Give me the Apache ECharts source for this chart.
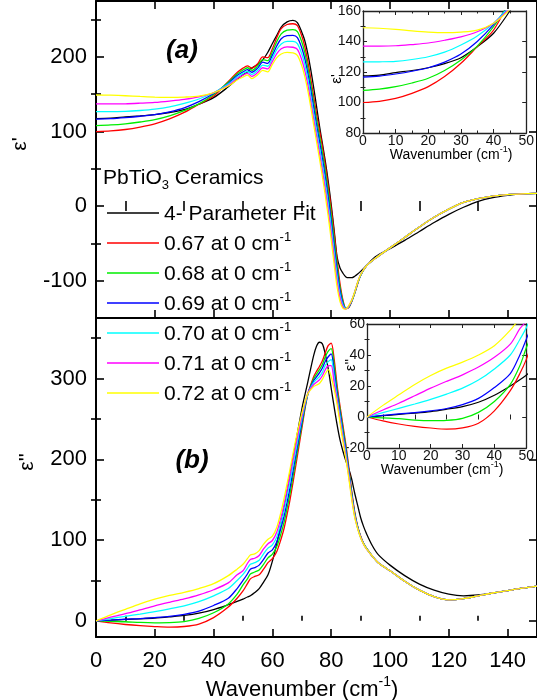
<!DOCTYPE html>
<html>
<head>
<meta charset="utf-8">
<script src="https://cdn.jsdelivr.net/npm/echarts@6/dist/echarts.min.js"></script>
<style>
html, body { margin: 0; padding: 0; background: #fff; }
#chart { width: 537px; height: 700px; }
</style>
</head>
<body>
<div id="chart"></div>
<script>
// Wavenumber grids (cm^-1)
const wavenumberReal = [0,5,10,15,20,25,30,35,40,45,48,50,51.5,53,55,56.7,58.4,60,61.5,63,65,67,68.5,70,71,72,73,74,75,76,77,78,79,80,81,82,83,84,85,86,87,88,89,90,92,95,100,105,110,115,120,125,130,135,140,145,150];
const wavenumberImag = [0,5,10,15,20,25,30,35,40,45,48,50,51.5,52.5,54,55.5,57,58.5,60,61.5,63,64,65,66,68,70,72,74,75,76,77,78,79,80,81,82,83,84,85,86,87,88,89,90,91,92,94,96,100,105,110,115,120,125,130,135,140,145,150];

// Real part of the permittivity
const epsRealFit = [117.4,118,119.6,121,122.8,125.5,129.4,136.6,145.4, 160,170,176,180,185,190,196,206,218,229,240,247,249,246, 233,222,205,184,160,134,108,84,60,33,2,-32,-68,-83,-90,-95,-96,-96,-94,-91,-87.5, -80,-68,-57,-46,-34,-22,-11,-1.5,6.5,11.5,14.5,16.5,17];
const epsReal067 = [100,100.8,102.7,106,110.4,117,125.7,136.6,147.5, 167,179,185,188,185,191,200,199,211,226,238,243.5,244.5,242, 228,214,195,172,148,124,102,80,55,27,-3,-36,-72,-104,-126,-137,-136,-128,-117,-104,-93, -80,-70,-56,-42,-28,-15,-4,5,10,13.5,15.5,16.5,17];
const epsReal068 = [108,108.8,110.4,112.8,115.9,121,127.9,137,149.7, 166,177,182.5,185.5,182,188,196.5,195,207,220.5,231,236,236.7,234, 220,206,187,164.5,140.5,116.5,94.5,72,47,19,-11.5,-44.5,-79,-109,-128,-137,-135.5,-127.5,-116.5,-103.5,-93, -80,-70,-56,-42,-28,-15,-4,5,10,13.5,15.5,16.5,17];
const epsReal069 = [116.7,117.3,118.7,120.5,122.8,126.5,131.8,140,151, 164.5,175,180,183,179.5,185,193,191.5,202.5,215,224.5,228.5,229,226, 212,198,179,157,133,109,87,64,38.5,11,-20,-53,-86.5,-113.5,-130.5,-137.5,-135,-127,-116,-103,-92.5, -80,-70,-56,-42,-28,-15,-4,5,10,13.5,15.5,16.5,17];
const epsReal070 = [126.6,126.7,127,128.2,130,133,137.7,143.6,152, 163.5,173,178,180.5,176.5,182,189,187.5,198.5,210,217.5,221,221,218, 204,190,171.5,149,125,102,79,56,30.5,2.5,-28,-61,-93.5,-118.5,-132.5,-137.5,-134.5,-126.5,-115.5,-102.5,-92.5, -80,-70,-56,-42,-28,-15,-4,5,10,13.5,15.5,16.5,17];
const epsReal071 = [137,137,137.2,138,139,140.8,143,146.4,152, 162,171,175.5,178,174,179,185.5,184,194,204.5,211,213.5,213,210, 196,182,163.5,141.5,117.5,94.5,71.5,48,22,-6,-36.5,-69.5,-101,-123,-135,-138,-134,-126,-115,-102,-92, -80,-70,-56,-42,-28,-15,-4,5,10,13.5,15.5,16.5,17];
const epsReal072 = [149,148.7,148,147,146.2,145.8,146.2,147.5,152, 161,169,173,175.5,171,176,182,180,190,199,204,206,205.5,202, 188,174,156,134,110,87,64,40,14,-14,-45,-78,-108,-128,-137,-138,-133,-126,-115,-102,-92, -80,-70,-56,-42,-28,-15,-4,5,10,13.5,15.5,16.5,17];

// Imaginary part of the permittivity
const epsImagFit = [0,0.8,1.7,2.5,3.5,5,6.7,9.5,14, 20,24,27,29.5,31,35,40,48,57,74,96,122,140,160,181,222,262,295, 328,340,345,343,330,312,288,265,243,224,210,198,188,175,158,143,128,117,108, 93,82,69,56,45.5,38,33,31,32,34.5,37.5,40.5,43];
const epsImag067 = [0,-2.5,-4.5,-6,-7.1,-7.8,-7,-4,4, 17,28,37,46,52,55,57,64,72,77,86,102,115,132,150,193,238,280, 302,309,315,322,332,341,344,324,292,266,242,218,190,160,135,117,105,96,90, 80,72,62,49,38,30,26,27.5,31,34.5,37.5,40.5,43];
const epsImag068 = [0,-0.6,-1.1,-2,-2.4,-2.2,-0.9,3,10, 21,33,44.5,52,58,60.5,63,70,78,82.5,92,109,122.5,139.5,157.5,199.5,242,280, 299.5,305.5,311,317.5,327,334,337,317,287,262,238,214.5,187,158,133.5,116.5,104.5,96,90, 80,72,62,49,38,30,26,27.5,31,34.5,37.5,40.5,43];
const epsImag069 = [0,1,2,2.8,4,5.5,8,12,19, 28,40,50,58,64,66,69,76,84,88,98,116,130,147,165,206,245.5,280.5, 297,302,307,313,321.5,327,330.5,309.5,282,258,234,211,184.5,156,132,116,104,95.5,89.5, 80,72,62,49,38,30,26,27.5,31,34.5,37.5,40.5,43];
const epsImag070 = [0,2.8,5.6,8.4,11.4,14.8,18.6,23.8,31, 40,50,57.5,65,70,72,75,83,90,94,104,122.5,137,155,173,212,249.5,280.5, 295,299,302.5,308,316.5,321,323.5,302,277,253.5,230,207,181.5,154,131,115,103.5,95.5,89.5, 80,72,62,49,38,30,26,27.5,31,34.5,37.5,40.5,43];
const epsImag071 = [0,4.5,8.9,13.7,18.6,23,27.2,32.2,38.5, 47,57,62,71,76,77.5,81,89,95.5,99.5,110,129,144.5,162.5,180.5,218.5,253,281, 292.5,295.5,298.5,303.5,311,316,316,294.5,273,249,226,203.5,179,152,129.5,114.5,103.5,95,89, 80,72,62,49,38,30,26,27.5,31,34.5,37.5,40.5,43];
const epsImag072 = [0,7.5,14.3,21,26.8,31.5,35.4,40,46, 56,64,70,77,81.5,83,87,95,101,105,116,136,152,170,188,225,257,281, 290,292,294,299,306,311,302,287,268,245,222,200,176,150,128,114,103,95,89, 80,72,62,49,38,30,26,27.5,31,34.5,37.5,40.5,43];

// Curve names and colours (draw order: fit first, coloured curves on top)
const curveNames = ['4- Parameter Fit', '0.67 at 0 cm-1', '0.68 at 0 cm-1', '0.69 at 0 cm-1', '0.70 at 0 cm-1', '0.71 at 0 cm-1', '0.72 at 0 cm-1'];
const curveColors = ['#000000', '#ff0000', '#00ee00', '#0000ff', '#00ffff', '#ff00ff', '#ffff00'];
const realSets = [epsRealFit, epsReal067, epsReal068, epsReal069, epsReal070, epsReal071, epsReal072];
const imagSets = [epsImagFit, epsImag067, epsImag068, epsImag069, epsImag070, epsImag071, epsImag072];

// Tick positions
const mainXMajor = [0,20,40,60,80,100,120,140];
const mainXMinor = [10,30,50,70,90,110,130,150];
const realYMajor = [-100,0,100,200];
const realYMinor = [-50,50,150,250];
const imagYMajor = [0,100,200,300];
const imagYMinor = [50,150,250,350];
const insetXMajor = [0,10,20,30,40,50];
const insetXMinor = [5,15,25,35,45];
const insetRealYMajor = [80,100,120,140,160];
const insetRealYMinor = [90,110,130,150];
const insetImagYMajor = [-20,0,20,40,60];
const insetImagYMinor = [-10,10,30,50];

const F = '"Liberation Sans", Arial, Helvetica, sans-serif';

const grids = [
  { left: 96, top: 1, width: 442, height: 317 },
  { left: 96, top: 318, width: 442, height: 319 },
  { left: 363, top: 11, width: 165, height: 122 },
  { left: 367, top: 324, width: 169, height: 124 }
];

const xAxes = [];
const yAxes = [];

// Builds a boxed frame (bottom/top/left/right) with inward major and minor ticks
function addFrame(gi, o) {
  const line = { show: true, onZero: false, lineStyle: { color: o.color, width: o.lw } };
  const noLine = { show: false };
  const tick = (vals, len, show) => ({ show: show !== false, inside: true, length: len, customValues: vals, lineStyle: { color: o.color, width: o.tw } });
  const off = { show: false };
  const base = { gridIndex: gi, type: 'value', splitLine: { show: false }, silent: true };
  const xb = Object.assign({}, base, { min: o.x[0], max: o.x[1] });
  const yb = Object.assign({}, base, { min: o.y[0], max: o.y[1] });
  const xi = xAxes.length, yi = yAxes.length;
  xAxes.push(Object.assign({}, xb, { position: 'bottom', axisLine: line, axisTick: tick(o.xMajor, o.major),
    axisLabel: o.xLabel ? Object.assign({ customValues: o.xMajor }, o.xLabel) : off }));
  xAxes.push(Object.assign({}, xb, { position: 'bottom', axisLine: noLine, axisTick: tick(o.xMinor, o.minor), axisLabel: off }));
  xAxes.push(Object.assign({}, xb, { position: 'top', axisLine: line, axisTick: tick(o.xMajor, o.major, o.topTicks), axisLabel: off }));
  xAxes.push(Object.assign({}, xb, { position: 'top', axisLine: noLine, axisTick: tick(o.xMinor, o.minor, o.topTicks), axisLabel: off }));
  yAxes.push(Object.assign({}, yb, { position: 'left', axisLine: line, axisTick: tick(o.yMajor, o.major),
    axisLabel: Object.assign({ customValues: o.yMajor }, o.yLabel) }));
  yAxes.push(Object.assign({}, yb, { position: 'left', axisLine: noLine, axisTick: tick(o.yMinor, o.minor), axisLabel: off }));
  yAxes.push(Object.assign({}, yb, { position: 'right', axisLine: line, axisTick: tick(o.yMajor, o.major), axisLabel: off }));
  yAxes.push(Object.assign({}, yb, { position: 'right', axisLine: noLine, axisTick: tick(o.yMinor, o.minor), axisLabel: off }));
  return { x: xi, y: yi };
}

const mainYLabel = { show: true, fontFamily: F, fontSize: 22, color: '#000', margin: 9 };
const insetLabel = { show: true, fontFamily: F, fontSize: 14, color: '#111', margin: 2 };

const frames = [
  addFrame(0, { x: [0, 150], y: [-150, 275], xMajor: mainXMajor, xMinor: mainXMinor, yMajor: realYMajor, yMinor: realYMinor,
    color: '#000', lw: 2, tw: 1.6, major: 8, minor: 5, yLabel: mainYLabel }),
  addFrame(1, { x: [0, 150], y: [-20, 375], xMajor: mainXMajor, xMinor: mainXMinor, yMajor: imagYMajor, yMinor: imagYMinor,
    color: '#000', lw: 2, tw: 1.6, major: 8, minor: 5, topTicks: false, yLabel: mainYLabel,
    xLabel: { show: true, fontFamily: F, fontSize: 22, color: '#000', margin: 13 } }),
  addFrame(2, { x: [0, 50], y: [80, 160], xMajor: insetXMajor, xMinor: insetXMinor, yMajor: insetRealYMajor, yMinor: insetRealYMinor,
    color: '#222', lw: 1.3, tw: 1, major: 4, minor: 2.5, yLabel: insetLabel,
    xLabel: { show: true, fontFamily: F, fontSize: 14, color: '#111', margin: 1 } }),
  addFrame(3, { x: [0, 50], y: [-20, 60], xMajor: insetXMajor, xMinor: insetXMinor, yMajor: insetImagYMajor, yMinor: insetImagYMinor,
    color: '#222', lw: 1.3, tw: 1, major: 4, minor: 2.5, yLabel: insetLabel,
    xLabel: { show: true, fontFamily: F, fontSize: 14, color: '#111', margin: 1 } })
];

const zip = (xs, ys) => xs.map((x, i) => [x, ys[i]]);

const series = [];
const panels = [
  { frame: frames[0], xs: wavenumberReal, sets: realSets, width: 1.3 },
  { frame: frames[1], xs: wavenumberImag, sets: imagSets, width: 1.3 },
  { frame: frames[2], xs: wavenumberReal, sets: realSets, width: 1.2 },
  { frame: frames[3], xs: wavenumberImag, sets: imagSets, width: 1.2 }
];
panels.forEach(p => {
  curveNames.forEach((name, k) => {
    series.push({
      type: 'line', name: name, xAxisIndex: p.frame.x, yAxisIndex: p.frame.y,
      data: zip(p.xs, p.sets[k]), symbol: 'none', smooth: 0.3, clip: true, silent: true,
      lineStyle: { color: curveColors[k], width: p.width }, itemStyle: { color: curveColors[k] }
    });
  });
});

const supRich = (size, sup) => ({
  n: { fontFamily: F, fontSize: size, lineHeight: size + 3, verticalAlign: 'bottom', fill: '#000', color: '#000' },
  s: { fontFamily: F, fontSize: sup, lineHeight: sup, verticalAlign: 'top', fill: '#000', color: '#000' }
});

const option = {
  animation: false,
  backgroundColor: '#fff',
  grid: grids,
  xAxis: xAxes,
  yAxis: yAxes,
  series: series,
  legend: {
    data: curveNames, orient: 'vertical', left: 102, top: 199,
    icon: 'rect', itemWidth: 52, itemHeight: 1.6, itemGap: 6, selectedMode: false,
    textStyle: { fontFamily: F, fontSize: 21, color: '#000', rich: supRich(21, 13) },
    formatter: name => name.endsWith('cm-1') ? '{n|' + name.slice(0, -2) + '}{s|-1}' : '{n|' + name + '}'
  },
  graphic: [
    { type: 'text', x: 182, y: 51, style: { text: '(a)', font: 'italic bold 26px ' + F, fill: '#000', align: 'center', verticalAlign: 'middle' } },
    { type: 'text', x: 192, y: 461, style: { text: '(b)', font: 'italic bold 26px ' + F, fill: '#000', align: 'center', verticalAlign: 'middle' } },
    { type: 'text', x: 20, y: 144, rotation: Math.PI / 2, style: { text: "ε'", font: '21px ' + F, fill: '#000', align: 'center', verticalAlign: 'middle' } },
    { type: 'text', x: 27, y: 462, rotation: Math.PI / 2, style: { text: "ε''", font: '21px ' + F, fill: '#000', align: 'center', verticalAlign: 'middle' } },
    { type: 'text', x: 103, y: 180, style: { text: '{n|PbTiO}{b|3}{n| Ceramics}', align: 'left', verticalAlign: 'middle',
      rich: { n: { fontFamily: F, fontSize: 21, lineHeight: 24, verticalAlign: 'top', fill: '#000' },
              b: { fontFamily: F, fontSize: 13, lineHeight: 13, verticalAlign: 'bottom', fill: '#000' } } } },
    { type: 'text', x: 302, y: 688, style: { text: '{n|Wavenumber (cm}{s|-1}{n|)}', align: 'center', verticalAlign: 'middle', rich: supRich(22, 14) } },
    { type: 'text', x: 451, y: 154, style: { text: '{n|Wavenumber (cm}{s|-1}{n|)}', align: 'center', verticalAlign: 'middle', rich: supRich(14, 9) } },
    { type: 'text', x: 442, y: 469, style: { text: '{n|Wavenumber (cm}{s|-1}{n|)}', align: 'center', verticalAlign: 'middle', rich: supRich(14, 9) } },
    { type: 'text', x: 337, y: 79, rotation: Math.PI / 2, style: { text: "ε'", font: '15px ' + F, fill: '#000', align: 'center', verticalAlign: 'middle' } },
    { type: 'text', x: 351, y: 365, rotation: Math.PI / 2, style: { text: "ε''", font: '15px ' + F, fill: '#000', align: 'center', verticalAlign: 'middle' } }
  ]
};

const chart = echarts.init(document.getElementById('chart'), null, { renderer: 'canvas' });
chart.setOption(option);
</script>
</body>
</html>
